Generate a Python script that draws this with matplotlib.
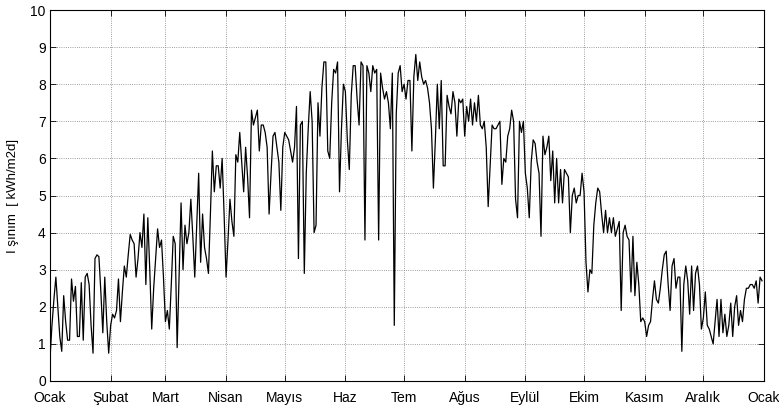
import numpy as np
import matplotlib
matplotlib.use("Agg")
import matplotlib.pyplot as plt

# daily irradiation values (day 1..365)
isinim = [
    0.6, 1.5, 2.2, 2.8, 2.0, 1.2, 0.8, 2.3, 1.6, 1.1,
    1.1, 2.75, 2.15, 2.55, 1.2, 1.2, 2.65, 1.1, 2.8, 2.9,
    2.6, 1.5, 0.75, 3.3, 3.4, 3.35, 2.4, 1.3, 2.8, 1.6,
    0.75, 1.5, 1.8, 1.7, 1.9, 2.75, 1.6, 2.4, 3.1, 2.8,
    3.4, 3.95, 3.8, 3.7, 2.8, 3.3, 4.0, 3.6, 4.5, 2.6,
    4.4, 3.0, 1.4, 2.5, 3.3, 4.1, 3.6, 3.8, 2.8, 1.6,
    1.9, 1.4, 2.6, 3.9, 3.7, 0.9, 2.8, 4.8, 3.0, 4.2,
    3.7, 4.0, 4.9, 3.9, 2.8, 4.2, 5.6, 3.2, 4.5, 3.6,
    3.3, 2.9, 4.5, 6.2, 5.1, 5.8, 5.8, 5.2, 6.0, 4.5,
    2.8, 3.8, 4.9, 4.3, 3.9, 6.1, 5.9, 6.7, 5.9, 5.1,
    6.3, 5.5, 4.4, 7.3, 6.9, 7.1, 7.3, 6.2, 6.9, 6.9,
    6.7, 6.3, 4.5, 5.6, 6.6, 6.7, 6.3, 5.9, 4.6, 6.3,
    6.7, 6.6, 6.5, 6.2, 5.9, 6.3, 7.4, 3.3, 6.9, 7.0,
    2.9, 5.6, 6.8, 7.8, 7.0, 4.0, 4.2, 7.5, 6.6, 7.9,
    8.6, 8.6, 6.2, 6.0, 7.5, 8.4, 8.3, 8.6, 5.1, 6.8,
    8.0, 7.8, 6.5, 5.7, 7.7, 8.5, 8.5, 7.6, 6.9, 8.6,
    8.5, 3.8, 8.5, 8.3, 7.8, 8.5, 8.3, 8.4, 3.8, 8.3,
    7.9, 7.6, 7.8, 7.5, 6.8, 8.3, 1.5, 7.2, 8.3, 8.5,
    7.8, 8.0, 7.6, 8.1, 8.1, 6.2, 8.2, 8.8, 8.1, 8.6,
    8.2, 8.0, 8.1, 7.9, 7.5, 6.8, 5.2, 6.5, 8.0, 6.8,
    8.1, 5.8, 5.8, 7.7, 7.4, 7.2, 7.8, 7.5, 6.6, 7.6,
    7.5, 7.6, 6.6, 7.4, 7.0, 7.6, 6.9, 7.5, 7.0, 7.7,
    6.9, 6.8, 7.0, 6.3, 4.7, 5.8, 6.9, 6.8, 6.8, 6.9,
    7.0, 5.3, 6.0, 5.9, 6.6, 6.8, 7.3, 7.0, 4.9, 4.4,
    7.0, 6.7, 7.0, 5.6, 5.2, 4.4, 5.9, 6.5, 6.4, 5.9,
    5.6, 3.9, 6.6, 6.1, 6.3, 6.6, 5.4, 6.2, 4.8, 6.0,
    4.8, 5.7, 4.8, 5.7, 5.6, 5.5, 4.0, 5.0, 5.2, 4.8,
    5.0, 5.0, 5.6, 5.1, 3.2, 2.4, 3.0, 2.9, 4.2, 4.8,
    5.2, 5.1, 4.5, 4.0, 4.6, 4.0, 4.4, 4.0, 4.4, 3.9,
    4.1, 4.3, 1.9, 4.0, 4.2, 3.9, 3.8, 2.4, 3.9, 2.3,
    3.2, 2.6, 1.6, 1.7, 1.6, 1.2, 1.5, 1.6, 2.2, 2.7,
    2.2, 2.1, 2.5, 3.0, 3.4, 3.5, 2.6, 1.9, 3.1, 3.3,
    2.5, 2.8, 2.8, 0.8, 2.6, 3.1, 2.7, 1.8, 3.1, 1.9,
    2.9, 3.1, 2.6, 1.4, 1.7, 2.4, 1.5, 1.4, 1.2, 1.0,
    1.6, 2.2, 1.2, 2.2, 1.3, 1.8, 1.2, 1.5, 2.1, 1.2,
    2.0, 2.3, 1.5, 1.9, 1.6, 2.2, 2.5, 2.5, 2.6, 2.6,
    2.5, 2.7, 2.1, 2.8, 2.7,
]
gunler = np.arange(1, len(isinim) + 1)

# month starts (day of year) and their labels
ay_baslari = [1, 32, 60, 91, 121, 152, 182, 213, 244, 274, 305, 335, 366]
ay_adlari = ["Ocak", "Şubat", "Mart", "Nisan", "Mayıs", "Haz", "Tem",
             "Ağus", "Eylül", "Ekim", "Kasım", "Aralık", "Ocak"]

plt.rcParams["font.family"] = ["Liberation Sans", "DejaVu Sans"]

fig = plt.figure(figsize=(7.79, 4.09), dpi=100)
ax = fig.add_axes([50 / 779, 28 / 409, 714 / 779, 371 / 409])

ax.plot(gunler, isinim, color="black", lw=0.9)

ax.set_xlim(1, 366)
ax.set_ylim(0, 10)
ax.set_xticks(ay_baslari)
ax.set_xticklabels(ay_adlari)
ax.set_yticks(np.arange(0, 11, 1))

ax.grid(True, linestyle=":", color="0.5", lw=0.6)
ax.tick_params(direction="in", top=True, right=True, length=4, width=0.6,
               labelsize=10)
ax.tick_params(axis="x", pad=7)
ax.tick_params(axis="y", pad=3)
for s in ax.spines.values():
    s.set_linewidth(0.8)

ax.set_ylabel("I şınım  [ kWh/m2d]", fontsize=9.5, labelpad=8)

fig.savefig("out.png", dpi=100)
